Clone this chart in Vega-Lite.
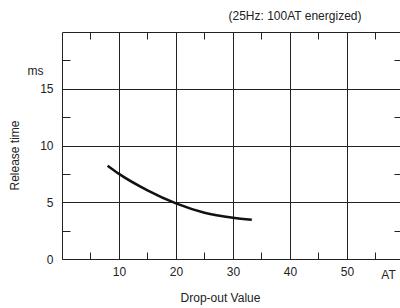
{
  "$schema": "https://vega.github.io/schema/vega-lite/v6.json",
  "autosize": "none",
  "width": 338,
  "height": 227,
  "padding": {"left": 62, "top": 32, "right": 0, "bottom": 49},
  "background": "white",
  "title": {"text": "(25Hz: 100AT energized)", "anchor": "middle", "dx": 64, "offset": 9, "fontSize": 12, "fontWeight": "normal", "font": "Liberation Sans", "color": "#222"},
  "config": {
    "view": {"stroke": null},
    "axis": {"labelFont": "Liberation Sans", "titleFont": "Liberation Sans", "labelFontSize": 12, "titleFontSize": 12, "titleFontWeight": "normal", "labelColor": "#222", "titleColor": "#222", "domainColor": "#222", "tickColor": "#222", "gridColor": "#222", "gridOpacity": 1, "domainWidth": 1, "tickWidth": 1, "gridWidth": 1}
  },
  "data": {"values": [
    {"at": 8, "ms": 8.22},
    {"at": 10, "ms": 7.5},
    {"at": 15, "ms": 6.05},
    {"at": 20, "ms": 4.9},
    {"at": 25, "ms": 4.08},
    {"at": 30, "ms": 3.64},
    {"at": 33.3, "ms": 3.46}
  ]},
  "resolve": {"axis": {"x": "independent", "y": "independent"}},
  "layer": [
    {
      "mark": {"type": "line", "color": "#111", "strokeWidth": 2.5, "interpolate": "monotone"},
      "encoding": {
        "x": {"field": "at", "type": "quantitative", "scale": {"domain": [0, 59.3], "nice": false, "zero": false},
          "axis": {"orient": "bottom", "values": [10, 20, 30, 40, 50, 57.2], "grid": true, "ticks": false, "labelPadding": {"condition": {"test": "datum.value > 55", "value": 10}, "value": 7}, "labelExpr": "datum.value > 55 ? 'AT' : datum.label", "gridOpacity": {"condition": {"test": "datum.value > 55", "value": 0}, "value": 1}, "title": "Drop-out Value", "titleX": 158, "titleY": 38, "titleBaseline": "middle", "titleAnchor": null, "labelFlush": false}},
        "y": {"field": "ms", "type": "quantitative", "scale": {"domain": [0, 20], "nice": false},
          "axis": {"orient": "left", "values": [0, 5, 10, 15, 16.6], "grid": true, "ticks": false, "labelPadding": {"condition": {"test": "datum.value > 16", "value": 19}, "value": 9}, "labelExpr": "datum.value > 16 ? 'ms' : datum.label", "gridOpacity": {"condition": {"test": "datum.value > 16", "value": 0}, "value": 1}, "title": "Release time", "titleX": -48, "titleY": 123, "titleAngle": -90, "titleAlign": "center", "titleBaseline": "middle", "labelFlush": false}}
      }
    },
    {
      "mark": {"type": "line", "opacity": 0},
      "encoding": {
        "x": {"field": "at", "type": "quantitative", "axis": {"orient": "bottom", "values": [5, 15, 25, 35, 45, 55], "grid": false, "labels": false, "domain": false, "tickSize": -7, "title": null}},
        "y": {"field": "ms", "type": "quantitative", "axis": {"orient": "left", "values": [2.5, 7.5, 12.5, 17.5], "grid": false, "labels": false, "domain": false, "tickSize": -8, "title": null}}
      }
    },
    {
      "mark": {"type": "line", "opacity": 0},
      "encoding": {
        "x": {"field": "at", "type": "quantitative", "axis": {"orient": "top", "values": [5, 15, 25, 35, 45, 55], "grid": false, "labels": false, "domain": true, "tickSize": -7, "title": null}},
        "y": {"field": "ms", "type": "quantitative", "axis": {"orient": "right", "values": [2.5, 7.5, 12.5, 17.5], "grid": false, "labels": false, "domain": false, "tickSize": -6, "title": null}}
      }
    }
  ]
}
